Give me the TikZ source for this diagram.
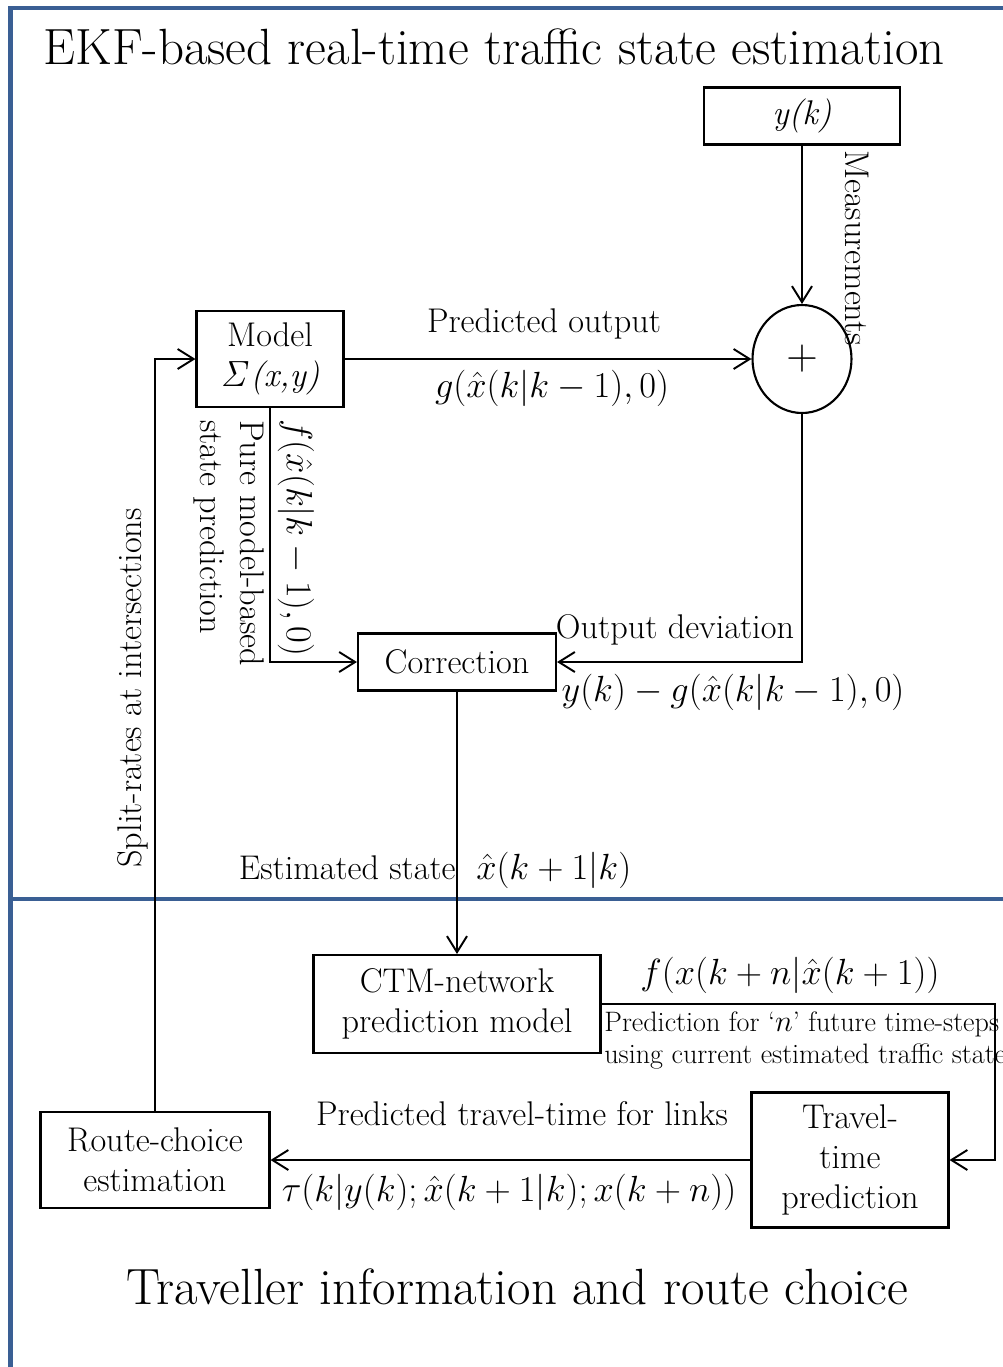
\documentclass[tikz,border=0pt]{standalone}
\usepackage{amsmath,amssymb}
\usepackage{tikz}
\usetikzlibrary{arrows.meta,shapes.geometric}
\usepackage{xcolor}
\definecolor{panelblue}{RGB}{58,95,148}

\begin{document}
\begin{tikzpicture}[x=0.02cm,y=-0.02cm,>={Straight Barb[length=3.2mm,width=4mm]},line cap=round,
  font=\fontsize{19.5}{23}\selectfont,
  blk/.style={draw,line width=1.2pt,inner sep=0pt,align=center},
  lbl/.style={inner sep=0pt},
  conn/.style={->,line width=1.1pt},
  frameline/.style={panelblue,line width=2.6pt,line cap=butt}]
\useasboundingbox (0,0) rectangle (1003,1367);
% panel frame
\draw[frameline] (10.5,1367) -- (10.5,8) -- (1003,8);
\draw[frameline] (10.5,899) -- (1003,899);
\node[lbl,font=\fontsize{29}{34}\selectfont] (toptitle) at (494,47) {EKF-based real-time traffic state estimation};
\node[lbl,font=\fontsize{29}{34}\selectfont] (bottitle) at (517,1287) {Traveller information and route choice};
% blocks
\node[blk,minimum width=3.92cm,minimum height=1.14cm] (yk) at (802,116) {\textit{y(k)}};
\node[blk,ellipse,minimum width=1.98cm,minimum height=2.16cm,font=\fontsize{26}{30}\selectfont] (sum) at (802,359) {$+$};
\node[blk,minimum width=2.94cm,minimum height=1.92cm] (model) at (270,359) {Model\\\textit{$\mathit{\Sigma}$(x,y)}};
\node[blk,minimum width=3.96cm,minimum height=1.14cm] (corr) at (457,662) {Correction};
\node[blk,minimum width=5.74cm,minimum height=1.96cm] (ctm) at (457,1004) {CTM-network\\prediction model};
\node[blk,minimum width=3.94cm,minimum height=2.7cm] (travel) at (850,1160) {Travel-\\time\\prediction};
\node[blk,minimum width=4.58cm,minimum height=1.92cm] (route) at (155,1160) {Route-choice\\estimation};
\coordinate (bend) at (995,1004);
% connectors
\draw[conn] (yk) -- (sum);
\draw[conn] (model) -- (sum);
\draw[conn] (sum.south) |- (corr.east);
\draw[conn] (model.south) |- (corr.west);
\draw[conn] (corr) -- (ctm);
\draw[conn] (ctm.east) -- (bend) |- (travel.east);
\draw[conn] (travel) -- (route);
\draw[conn] (route.north) |- (model.west);
% labels
\node[lbl,rotate=-90] (meas) at (857,248) {Measurements};
\node[lbl] (predout) at (544,324) {Predicted output};
\node[lbl] (gpred) at (552,388) {$g(\hat{x}(k|k-1),0)$};
\node[lbl] (outdev) at (675,630) {Output deviation};
\node[lbl] (ydev) at (733,692) {$y(k)-g(\hat{x}(k|k-1),0)$};
\node[lbl,rotate=-90] (fpred) at (296,538) {$f(\hat{x}(k|k-1),0)$};
\node[lbl,rotate=-90,align=left] (pure) at (229,543) {Pure model-based\\state prediction};
\node[lbl] (est) at (435,870) {Estimated state\ \ $\hat{x}(k+1|k)$};
\node[lbl] (fctm) at (790,975) {$f(x(k+n|\hat{x}(k+1))$};
\node[lbl,anchor=north west,align=left,font=\fontsize{16}{18.5}\selectfont] (note) at (604,1011) {Prediction for `$n$'\ future time-steps\\using current estimated traffic state};
\node[lbl] (ptt) at (522,1114) {Predicted travel-time for links};
\node[lbl] (tau) at (509,1192) {$\tau(k|y(k);\hat{x}(k+1|k);x(k+n))$};
\node[lbl,rotate=90] (split) at (133,688) {Split-rates at intersections};
\end{tikzpicture}
\end{document}
